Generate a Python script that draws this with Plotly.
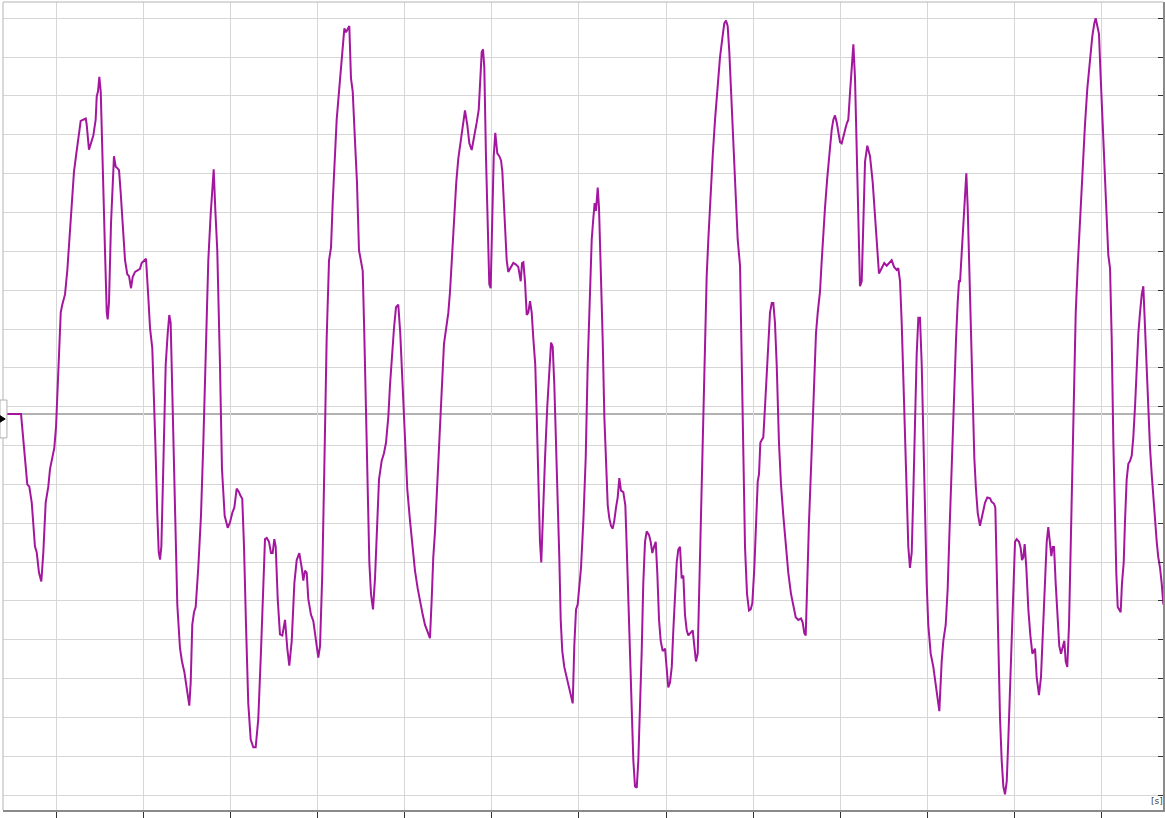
import plotly.graph_objects as go

# ---- signal samples, time in s (grid = 1 s), value in grid units ----
time_a = [-0.566, -0.405, -0.333, -0.310, -0.282, -0.245, -0.225, -0.199, -0.172, -0.149,
          -0.122, -0.092, -0.072, -0.046, -0.023, -0.003, 0.023, 0.051, 0.069, 0.100,
          0.126, 0.149, 0.177, 0.203, 0.226, 0.253, 0.280, 0.338, 0.349, 0.375,
          0.406, 0.425, 0.452, 0.464, 0.479, 0.494, 0.510, 0.533, 0.559, 0.579,
          0.590, 0.605, 0.628, 0.662, 0.682, 0.693, 0.720, 0.739, 0.762, 0.789,
          0.815, 0.835, 0.858, 0.877, 0.904, 0.930, 0.961, 0.980, 1.007, 1.030,
          1.056, 1.076, 1.102, 1.122, 1.137, 1.160, 1.176, 1.191, 1.206, 1.228,
          1.256, 1.279, 1.297, 1.313, 1.336, 1.363, 1.389, 1.420, 1.443, 1.470,
          1.497, 1.527, 1.543, 1.561, 1.581, 1.600, 1.630, 1.661, 1.688, 1.719,
          1.745, 1.773, 1.807, 1.825, 1.848, 1.879, 1.902, 1.933, 1.968, 1.994,
          2.021, 2.044, 2.071, 2.098]
value_a = [9.81, 9.81, 8.00, 7.94, 7.53, 6.40, 6.25, 5.73, 5.50, 6.25,
           7.53, 7.94, 8.40, 8.67, 8.94, 9.48, 11.08, 12.43, 12.63, 12.89,
           13.50, 14.31, 15.24, 16.05, 16.45, 16.92, 17.36, 17.42, 17.26, 16.62,
           16.85, 16.98, 17.39, 17.99, 18.12, 18.49, 18.12, 16.45, 14.03, 12.43,
           12.25, 12.69, 14.71, 16.45, 16.18, 16.16, 16.09, 15.52, 14.57, 13.77,
           13.41, 13.36, 13.05, 13.34, 13.47, 13.50, 13.55, 13.70, 13.77, 13.81,
           12.83, 12.02, 11.51, 10.28, 9.07, 7.19, 6.25, 6.06, 6.40, 8.40,
           11.08, 11.89, 12.36, 12.16, 9.74, 7.06, 4.91, 3.78, 3.44, 3.17,
           2.77, 2.30, 2.90, 4.38, 4.71, 4.84, 5.86, 7.19, 9.07, 11.35,
           13.77, 14.98, 16.11, 15.10, 14.03, 11.08, 8.40, 7.19, 6.88, 7.02,
           7.27, 7.40, 7.89, 7.80]

time_b = [2.109, 2.135, 2.155, 2.178, 2.204, 2.232, 2.262, 2.289, 2.319, 2.350,
          2.377, 2.396, 2.416, 2.442, 2.465, 2.484, 2.503, 2.519, 2.542, 2.568,
          2.595, 2.626, 2.652, 2.675, 2.703, 2.733, 2.760, 2.790, 2.817, 2.836,
          2.855, 2.875, 2.893, 2.924, 2.951, 2.982, 3.008, 3.028, 3.054, 3.077,
          3.104, 3.131, 3.154, 3.173, 3.192, 3.219, 3.246, 3.269, 3.288, 3.307,
          3.326, 3.346, 3.364, 3.383, 3.403, 3.429, 3.452, 3.475, 3.506, 3.518,
          3.536, 3.556, 3.575, 3.594, 3.613, 3.636, 3.659, 3.682, 3.705, 3.736,
          3.762, 3.785, 3.812, 3.831, 3.851, 3.877, 3.900, 3.926, 3.949, 3.977,
          4.003, 4.030, 4.061, 4.092, 4.118, 4.149, 4.176, 4.207, 4.233, 4.259,
          4.290, 4.310, 4.328, 4.348, 4.374, 4.397, 4.425, 4.451, 4.474, 4.501,
          4.520, 4.546, 4.569, 4.592, 4.615, 4.643, 4.666, 4.692, 4.719, 4.742, 4.769]
value_b = [7.73, 7.63, 6.40, 4.38, 2.36, 1.43, 1.23, 1.23, 1.96, 3.71,
           5.72, 6.59, 6.62, 6.52, 6.23, 6.23, 6.59, 6.40, 5.05, 4.14,
           4.11, 4.51, 3.78, 3.33, 3.97, 5.45, 6.05, 6.23, 5.86, 5.52,
           5.78, 5.72, 5.05, 4.64, 4.48, 3.90, 3.54, 3.84, 5.72, 8.40,
           11.75, 13.77, 14.10, 15.24, 16.31, 17.39, 18.12, 18.80, 19.27, 19.74,
           19.64, 19.74, 19.80, 18.46, 18.12, 16.85, 15.78, 14.03, 13.63, 13.50,
           11.89, 9.74, 7.73, 5.99, 5.18, 4.78, 5.58, 6.79, 8.13, 8.61,
           8.80, 9.07, 9.74, 10.55, 11.22, 12.02, 12.56, 12.63, 11.89, 10.41,
           9.07, 7.86, 7.06, 6.39, 5.78, 5.32, 4.95, 4.64, 4.38, 4.20,
           4.04, 5.05, 6.12, 6.79, 8.13, 9.07, 10.41, 11.62, 11.95, 12.42,
           12.96, 14.03, 14.98, 15.78, 16.38, 16.85, 17.32, 17.63, 17.25, 16.78, 16.61]

time_c = [4.796, 4.827, 4.850, 4.865, 4.884, 4.899, 4.914, 4.933, 4.953, 4.971,
          4.987, 5.002, 5.022, 5.040, 5.063, 5.086, 5.106, 5.121, 5.144, 5.171,
          5.189, 5.217, 5.247, 5.278, 5.304, 5.332, 5.347, 5.362, 5.381, 5.401,
          5.419, 5.439, 5.458, 5.477, 5.499, 5.516, 5.534, 5.553, 5.568, 5.584,
          5.611, 5.637, 5.660, 5.680, 5.699, 5.718, 5.737, 5.757, 5.775, 5.791,
          5.809, 5.832, 5.860, 5.890, 5.909, 5.929, 5.947, 5.967, 5.986, 6.005,
          6.024, 6.051, 6.078, 6.101, 6.127, 6.147, 6.165, 6.181, 6.196, 6.216,
          6.231, 6.250, 6.273, 6.292, 6.311, 6.331, 6.349, 6.369, 6.388, 6.406,
          6.426, 6.445, 6.464, 6.483, 6.510, 6.533, 6.549, 6.567, 6.587, 6.606,
          6.625, 6.644, 6.664, 6.682, 6.702, 6.721, 6.739, 6.759, 6.778, 6.805,
          6.824, 6.843, 6.862, 6.882, 6.900, 6.920, 6.939, 6.962, 6.989, 7.008,
          7.026, 7.046, 7.066, 7.084, 7.103, 7.123, 7.141, 7.161, 7.180, 7.199,
          7.218, 7.238, 7.256, 7.284, 7.307, 7.325, 7.344, 7.364, 7.382, 7.402, 7.421, 7.448]
value_c = [16.92, 17.32, 17.65, 18.33, 19.13, 19.20, 18.73, 16.45, 14.44, 13.16,
           13.05, 14.30, 16.45, 17.05, 16.52, 16.45, 16.34, 16.05, 14.84, 13.77,
           13.47, 13.60, 13.70, 13.66, 13.60, 13.23, 13.70, 13.72, 13.23, 12.36,
           12.42, 12.72, 12.42, 11.75, 11.08, 9.74, 8.00, 6.52, 5.99, 7.06,
           8.67, 10.01, 11.08, 11.65, 11.55, 10.55, 9.07, 7.73, 6.12, 4.51,
           3.71, 3.30, 3.03, 2.79, 2.57, 2.36, 3.84, 4.78, 4.91, 5.32,
           5.85, 7.06, 8.67, 11.08, 13.23, 14.30, 14.84, 15.24, 15.04, 15.64,
           15.11, 13.77, 11.75, 9.74, 8.40, 7.46, 7.13, 6.93, 6.86, 7.06,
           7.40, 7.66, 8.16, 7.84, 7.80, 7.46, 6.39, 5.05, 3.71, 2.10,
           0.89, 0.22, 0.19, 0.89, 2.23, 3.71, 5.45, 6.52, 6.79, 6.70,
           6.52, 6.23, 6.39, 6.52, 5.72, 4.51, 3.97, 3.71, 3.77, 3.30,
           2.77, 2.90, 3.30, 4.24, 5.32, 5.99, 6.32, 6.39, 5.58, 5.65,
           4.64, 4.24, 4.11, 4.17, 4.24, 3.84, 3.44, 3.64, 5.32, 7.06, 9.07, 11.75]

time_d = [7.467, 7.486, 7.497, 7.517, 7.536, 7.563, 7.589, 7.620, 7.646, 7.669,
          7.689, 7.708, 7.727, 7.754, 7.781, 7.804, 7.823, 7.850, 7.869, 7.888,
          7.907, 7.930, 7.953, 7.972, 7.991, 8.014, 8.033, 8.053, 8.068, 8.083,
          8.099, 8.117, 8.137, 8.156, 8.175, 8.194, 8.214, 8.232, 8.251, 8.271,
          8.297, 8.320, 8.347, 8.374, 8.404, 8.435, 8.461, 8.489, 8.519, 8.550,
          8.569, 8.588, 8.604, 8.622, 8.642, 8.665, 8.684, 8.703, 8.722, 8.742,
          8.768, 8.788, 8.806, 8.825, 8.852, 8.875, 8.902, 8.921, 8.940, 8.960,
          8.978, 8.998, 9.017, 9.036, 9.055, 9.075, 9.093, 9.112, 9.132, 9.151,
          9.170, 9.189, 9.208, 9.227, 9.247, 9.265, 9.285, 9.311, 9.342, 9.373,
          9.400, 9.423, 9.445, 9.477, 9.506, 9.534, 9.560, 9.591, 9.618, 9.649,
          9.667, 9.687, 9.706, 9.725, 9.744, 9.764, 9.782, 9.801, 9.821, 9.839,
          9.859, 9.878, 9.897, 9.916, 9.936, 9.954, 9.973, 9.993, 10.011, 10.039,
          10.069, 10.096, 10.119, 10.138]
value_d = [13.36, 14.31, 14.84, 15.51, 16.45, 17.39, 18.19, 19.00, 19.47, 19.87,
           19.94, 19.80, 19.13, 17.79, 16.31, 15.11, 14.30, 13.63, 11.08, 8.40,
           6.39, 5.18, 4.75, 4.78, 4.94, 5.85, 7.19, 8.07, 8.27, 9.07,
           9.14, 9.21, 10.01, 10.81, 11.75, 12.42, 12.67, 12.67, 12.16, 11.08,
           9.07, 8.00, 7.19, 6.39, 5.72, 5.18, 4.84, 4.58, 4.51, 4.55,
           4.44, 4.17, 4.11, 5.72, 7.06, 8.40, 9.74, 11.08, 11.89, 12.42,
           12.96, 13.77, 14.30, 15.11, 15.91, 16.58, 17.12, 17.39, 17.50, 17.32,
           17.01, 16.81, 16.78, 16.92, 17.12, 17.29, 17.39, 18.06, 18.73, 19.33,
           18.46, 16.45, 14.44, 13.10, 13.23, 14.84, 16.31, 16.72, 16.45, 15.78,
           14.98, 14.17, 13.43, 13.57, 13.70, 13.63, 13.70, 13.77, 13.60, 13.52,
           13.57, 13.23, 12.16, 10.81, 9.47, 7.73, 6.39, 5.85, 6.25, 7.73,
           9.74, 11.35, 12.29, 12.29, 11.08, 9.07, 7.33, 5.45, 4.38, 3.64,
           3.30, 2.90, 2.50, 2.16]

time_e = [10.165, 10.184, 10.211, 10.234, 10.253, 10.272, 10.292, 10.310, 10.330, 10.349,
          10.364, 10.376, 10.395, 10.413, 10.433, 10.448, 10.464, 10.482, 10.502, 10.521,
          10.540, 10.559, 10.579, 10.605, 10.631, 10.663, 10.689, 10.720, 10.739, 10.766,
          10.781, 10.797, 10.815, 10.835, 10.854, 10.873, 10.892, 10.912, 10.930, 10.950,
          10.969, 10.987, 11.007, 11.026, 11.053, 11.072, 11.087, 11.102, 11.118, 11.137,
          11.160, 11.183, 11.206, 11.222, 11.237, 11.256, 11.282, 11.305, 11.332, 11.351,
          11.371, 11.389, 11.409, 11.424, 11.440, 11.455, 11.474, 11.497, 11.515, 11.535,
          11.554, 11.573, 11.589, 11.607, 11.627, 11.646, 11.665, 11.684, 11.704, 11.727,
          11.745, 11.765, 11.788, 11.810, 11.837, 11.868, 11.894, 11.917, 11.933, 11.952,
          11.971, 11.991, 12.014, 12.040, 12.060, 12.078, 12.098, 12.117, 12.136, 12.155,
          12.170, 12.186, 12.204, 12.220, 12.235, 12.255, 12.270, 12.289, 12.308, 12.327,
          12.347, 12.365, 12.385, 12.404, 12.423, 12.442, 12.462, 12.480, 12.499, 12.519,
          12.537, 12.557, 12.576, 12.595, 12.614, 12.634, 12.652, 12.672, 12.691, 12.710]
value_e = [3.44, 3.97, 4.38, 5.32, 6.66, 8.00, 9.34, 10.68, 11.75, 12.69,
           13.23, 13.23, 14.03, 14.84, 15.64, 16.01, 15.11, 13.50, 11.75, 9.74,
           8.67, 7.86, 7.26, 6.93, 7.19, 7.53, 7.66, 7.64, 7.55, 7.50,
           7.40, 5.72, 3.71, 1.96, 0.89, 0.22, 0.02, 0.35, 1.43, 2.77,
           4.38, 5.72, 6.52, 6.59, 6.52, 6.36, 6.05, 6.12, 6.46, 5.85,
           4.78, 4.11, 3.64, 3.71, 3.77, 3.03, 2.57, 3.03, 4.38, 5.45,
           6.52, 6.90, 6.39, 6.15, 6.39, 6.39, 5.45, 4.51, 3.84, 3.64,
           3.84, 3.97, 3.44, 3.30, 4.38, 6.39, 9.07, 11.08, 12.42, 13.63,
           14.44, 15.51, 16.45, 17.25, 18.19, 19.00, 19.53, 19.87, 20.00, 19.80,
           19.60, 18.46, 17.12, 15.78, 14.84, 13.90, 13.57, 11.75, 9.07, 7.06,
           5.72, 4.84, 4.78, 4.71, 5.45, 5.99, 7.06, 8.13, 8.53, 8.60,
           8.74, 9.21, 10.01, 11.08, 11.89, 12.42, 12.89, 13.10, 12.02, 10.81,
           9.74, 8.94, 8.27, 7.60, 6.93, 6.52, 6.12, 5.85, 5.45, 4.91]

time_s = time_a + time_b + time_c + time_d + time_e
value = value_a + value_b + value_c + value_d + value_e
assert len(time_s) == len(value), (len(time_s), len(value))
for a, b in [(time_a, value_a), (time_b, value_b), (time_c, value_c), (time_d, value_d), (time_e, value_e)]:
    assert len(a) == len(b), (len(a), len(b))

marker_level = 9.81          # signal offset marker
x_range = [-0.612, 12.706]
y_range = [-0.385, 20.42]
axis_unit = "[s]"

fig = go.Figure(go.Scatter(
    x=time_s, y=value, mode="lines",
    line=dict(color="#a3179f", width=2),
    hoverinfo="skip",
))

fig.update_layout(
    width=1165, height=818,
    margin=dict(l=3, r=2, t=2, b=6),
    paper_bgcolor="white", plot_bgcolor="white",
    showlegend=False,
)
fig.update_xaxes(
    range=x_range, tick0=0, dtick=1,
    showgrid=True, gridcolor="#d6d6d6", gridwidth=1, zeroline=False,
    showline=True, linecolor="#8a8a8a", linewidth=2,
    ticks="outside", ticklen=6, tickcolor="#333333", tickwidth=1,
    showticklabels=False,
)
fig.update_yaxes(
    range=y_range, tick0=0, dtick=1, side="right",
    showgrid=True, gridcolor="#d6d6d6", gridwidth=1, zeroline=False,
    showline=True, linecolor="#8a8a8a", linewidth=2.5,
    ticks="inside", ticklen=5, tickcolor="#333333", tickwidth=1,
    showticklabels=False,
)

shapes = [
    # left and top frame lines
    dict(type="line", xref="paper", yref="paper", x0=0, x1=0, y0=0, y1=1,
         line=dict(color="#b4b4b4", width=1)),
    dict(type="line", xref="paper", yref="paper", x0=0, x1=1, y0=1, y1=1,
         line=dict(color="#b4b4b4", width=1)),
    # signal offset line
    dict(type="line", xref="paper", yref="y", x0=0, x1=1, y0=marker_level, y1=marker_level,
         line=dict(color="#999999", width=1.5), layer="below"),
    # offset handle box
    dict(type="rect", xref="paper", yref="paper", x0=-0.0026, x1=0.0034, y0=0.4605, y1=0.5074,
         line=dict(color="#b0b0b0", width=1), fillcolor="white", layer="above"),
    dict(type="path", xref="paper", yref="paper",
         path="M -0.0026,0.4880 L 0.0019,0.4840 L -0.0026,0.4800 Z",
         line=dict(color="black", width=1), fillcolor="black", layer="above"),
]
fig.update_layout(shapes=shapes)

fig.add_annotation(
    text=axis_unit, xref="paper", yref="paper", x=0.9944, y=0.011,
    xanchor="center", yanchor="middle", showarrow=False,
    font=dict(size=9, color="#444444", family="DejaVu Sans"),
)

fig.write_html(
    "out.html",
    config={"displayModeBar": False},
    post_script="document.body.style.margin='0';document.body.style.overflow='hidden';",
)
